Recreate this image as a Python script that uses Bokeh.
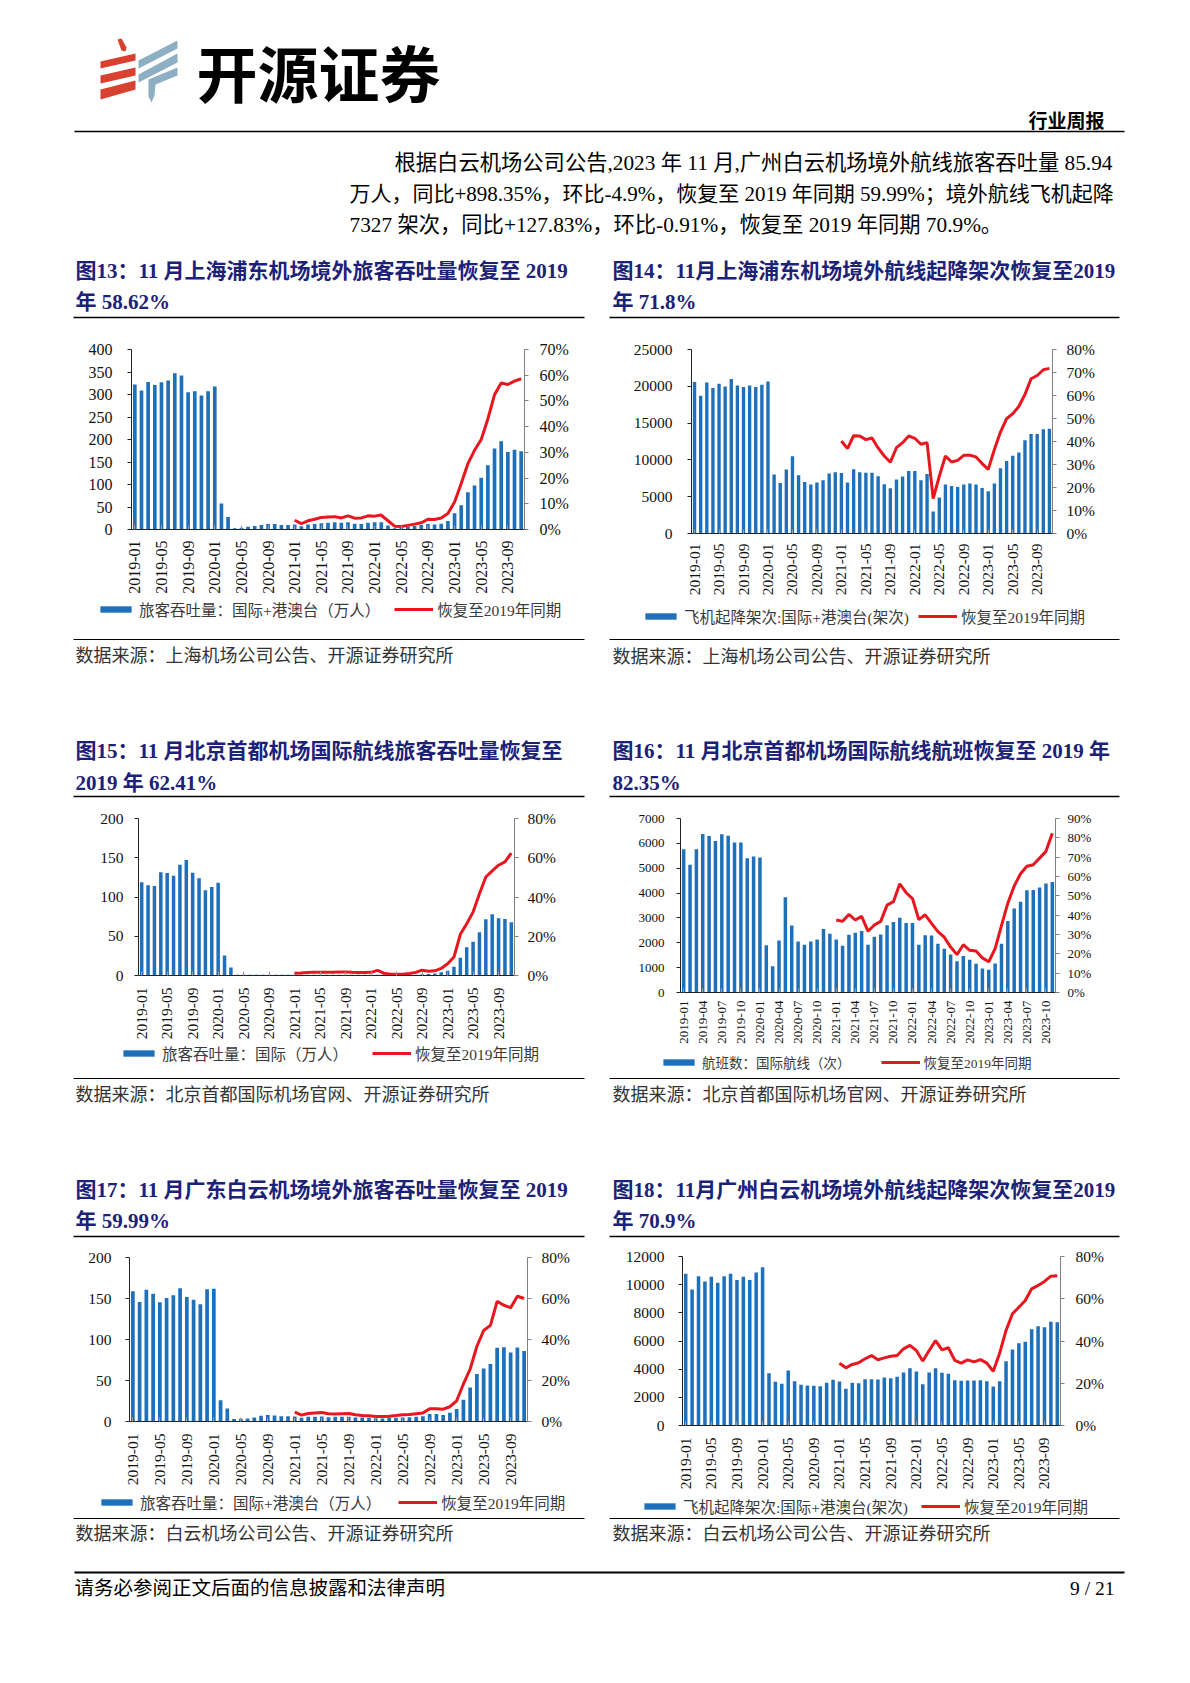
import math
from bokeh.plotting import figure
from bokeh.models import (Range1d, LinearAxis, FixedTicker, PrintfTickFormatter,
                          NumeralTickFormatter, CustomJSTickFormatter, Legend, LegendItem,
                          ColumnDataSource)
from bokeh.layouts import column, row
from bokeh.core.properties import value
from bokeh.embed import file_html
from bokeh.resources import INLINE

# ---------------- categories ----------------
MONTHS = [f"{y}-{m:02d}" for y in range(2019, 2024) for m in range(1, 13)][:59]
LINE_START = 24          # the recovery line starts at 2021-01
LINE_MONTHS = MONTHS[LINE_START:]

# ---------------- data ----------------
# Fig 13: Shanghai Pudong, passengers (10k) and recovery vs 2019 (%)
pvg_pax = [322, 309, 328, 321, 327, 331, 347, 342, 305, 307, 298, 307,
           318, 58, 28, 3, 4, 6, 8, 10, 12, 12, 10, 10,
           11, 7, 11, 12, 14, 15, 16, 15, 16, 13, 12, 15,
           16, 16, 9, 3, 4, 6, 8, 10, 12, 11, 13, 19,
           36, 54, 83, 98, 115, 143, 180, 196, 172, 177, 174]
pvg_pax_pct = [3.6, 2.3, 3.4, 4.0, 4.7, 4.9, 5.0, 4.5, 5.3, 4.4, 4.5, 5.3,
               5.2, 5.6, 3.4, 1.3, 1.2, 1.6, 2.1, 2.6, 4.0, 3.9, 4.5, 6.2,
               10.7, 17.9, 25.6, 30.8, 35.0, 43.0, 52.4, 57.0, 56.4, 57.7, 58.62]

# Fig 14: Shanghai Pudong, flights
pvg_flt = [20570, 18720, 20520, 19760, 20340, 19980, 20980, 20120, 19890, 20120, 19890, 20210,
           20660, 8000, 6870, 8680, 10490, 7910, 7000, 6650, 6920, 7230, 8140, 8320,
           8230, 6920, 8720, 8320, 8270, 8270, 7780, 6690, 6150, 7320, 7730, 8500,
           8500, 7230, 8090, 2980, 4880, 6650, 6460, 6330, 6650, 6780, 6650, 6190,
           5740, 6780, 8860, 9860, 10580, 10990, 12660, 13520, 13520, 14150, 14240]
pvg_flt_pct = [40.2, 36.9, 42.5, 42.4, 40.8, 41.5, 37.2, 33.7, 31.0, 37.3, 39.5, 42.4,
               41.4, 38.8, 39.5, 15.2, 24.9, 33.7, 31.1, 31.8, 34.0, 34.0, 33.3, 30.4,
               27.9, 36.5, 44.1, 49.9, 52.1, 55.2, 60.5, 67.3, 68.7, 71.2, 71.8]

# Fig 15: Beijing Capital, international passengers
pek_pax = [118.7, 115, 114, 131.5, 130.6, 127, 141, 147, 131, 124, 108.5, 112.8,
           118, 25.5, 10.2, 1, 0.8, 0.8, 0.8, 0.8, 0.8, 0.8, 0.8, 0.8,
           1, 0.8, 1, 1, 1, 1, 1, 1, 1, 1, 1, 1,
           1, 1, 1.2, 0.5, 0.5, 0.6, 0.8, 1, 1.5, 2, 2.5, 4,
           6, 11, 22.5, 36, 43, 55, 71.5, 78, 73, 72, 67.7]
pek_pax_pct = [1.2, 1.3, 1.5, 1.6, 1.6, 1.6, 1.7, 1.8, 1.8, 1.6, 1.5, 1.5,
               1.6, 2.6, 1.2, 0.6, 0.6, 0.7, 1.0, 1.6, 2.7, 2.2, 2.4, 3.6,
               6.0, 9.4, 21.0, 26.4, 32.3, 41.7, 50.2, 53.3, 56.2, 57.9, 62.41]

# Fig 16: Beijing Capital, international flights
pek_flt = [5767, 5144, 5767, 6377, 6297, 6098, 6363, 6310, 6032, 6032, 5396, 5475,
           5436, 1896, 1060, 2095, 3831, 2691, 2055, 1922, 2055, 2134, 2559, 2360,
           2134, 1882, 2320, 2400, 2479, 1922, 2240, 2333, 2704, 2837, 3009, 2797,
           2797, 1922, 2307, 2293, 1962, 1763, 1525, 1259, 1472, 1313, 1153, 968,
           915, 1167, 1962, 2877, 3381, 3646, 4110, 4123, 4229, 4388, 4441]
pek_flt_pct = [37.5, 36.8, 40.4, 37.5, 39.4, 31.7, 34.9, 36.8, 45.2, 47.0, 56.2, 51.6,
               48.6, 37.7, 40.2, 35.8, 31.5, 28.6, 23.5, 19.6, 24.7, 21.8, 21.5, 17.9,
               15.9, 22.7, 34.6, 46.2, 55.1, 61.4, 65.3, 66.1, 69.5, 73.0, 82.35]

# Fig 17: Guangzhou Baiyun, passengers
can_pax = [158.8, 145.7, 160.8, 155.9, 145.3, 150.6, 153.9, 162.4, 151.8, 148.6, 142.9, 161.2,
           162, 26, 16, 3, 3.3, 3.7, 5, 7, 7.8, 7.3, 6.5, 6.5,
           6.1, 4.5, 5.7, 5.7, 6.1, 5.3, 5.7, 5.7, 5.7, 4.9, 4.9, 4.5,
           4.1, 3.7, 4.5, 4.5, 4.9, 5.3, 5.7, 6.5, 9, 9, 7.8, 10.6,
           15.1, 26.5, 41.6, 58, 64.5, 70.2, 89.8, 90.6, 84, 90.2, 85.94]
can_pax_pct = [4.6, 3.1, 3.9, 4.2, 4.4, 3.8, 3.6, 3.8, 3.9, 3.3, 2.9, 2.8,
               2.4, 2.4, 2.6, 2.9, 3.3, 3.4, 3.8, 4.2, 6.2, 6.2, 6.0, 7.2,
               10.1, 18.3, 25.6, 36.7, 44.4, 46.9, 58.6, 56.7, 55.5, 61.1, 59.99]

# Fig 18: Guangzhou Baiyun, flights
can_flt = [10770, 9660, 10600, 10230, 10560, 10130, 10600, 10770, 10340, 10560, 10340, 10860,
           11240, 3716, 3101, 2959, 3905, 3148, 2888, 2840, 2817, 2793, 3030, 3243,
           3124, 2604, 3030, 3006, 3290, 3290, 3266, 3408, 3361, 3456, 3763, 4071,
           3834, 2935, 3763, 4071, 3740, 3669, 3219, 3172, 3195, 3195, 3219, 3148,
           2769, 3148, 4568, 5396, 5846, 5941, 6840, 7053, 6982, 7361, 7327]
can_flt_pct = [29.5, 27.3, 28.9, 29.7, 31.6, 33.1, 31.1, 32.0, 32.8, 33.1, 36.3, 37.9,
               35.5, 30.5, 35.5, 40.2, 35.8, 36.8, 30.8, 29.5, 31.1, 30.1, 31.2, 29.5,
               25.7, 34.2, 45.0, 52.9, 56.0, 59.2, 64.7, 66.3, 68.2, 70.7, 70.9]

# ---------------- styles ----------------
BLUE = "#1E70BA"
RED = "#E8161E"
NAVY = "#1B2278"
MIX = "Liberation Serif, Noto Sans CJK SC"
CJK = "Noto Sans CJK SC"
PAGE_W = 1174
TITLE_PX = 21


def chart(bars, pct, ymax, ystep, rmax, rstep, width, height, borders, every, font_px, stand):
    left, right, top, bottom = borders
    p = figure(width=width, height=height, output_backend="svg", toolbar_location=None, tools="",
               x_range=Range1d(-0.5, len(MONTHS) - 0.5), y_range=Range1d(0, ymax),
               min_border_left=left, min_border_right=right,
               min_border_top=top, min_border_bottom=bottom)
    p.extra_y_ranges = {"pct": Range1d(0, rmax)}
    p.background_fill_color = "white"
    p.border_fill_color = "white"
    p.outline_line_color = None
    p.xgrid.visible = False
    p.ygrid.visible = False

    src = ColumnDataSource(dict(x=list(range(len(MONTHS))), month=MONTHS, value=bars))
    p.vbar(x="x", top="value", width=0.55, source=src, fill_color=BLUE, line_color=None)
    lsrc = ColumnDataSource(dict(x=list(range(LINE_START, len(MONTHS))), month=LINE_MONTHS, value=pct))
    p.line(x="x", y="value", source=lsrc, y_range_name="pct", line_color=RED, line_width=3)

    fs = f"{font_px}px"
    xa = p.xaxis[0]
    xa.ticker = FixedTicker(ticks=list(range(0, len(MONTHS), every)))
    xa.formatter = CustomJSTickFormatter(args=dict(labels=MONTHS),
                                         code="return labels[Math.round(tick)] || '';")
    xa.major_label_orientation = math.pi / 2
    xa.major_tick_in = 4
    xa.major_tick_out = 0
    xa.major_tick_line_color = "#9a9a9a"
    xa.minor_tick_line_color = None
    xa.axis_line_color = "#222222"
    xa.major_label_text_font = "Liberation Serif"
    xa.major_label_text_font_size = fs
    xa.major_label_text_color = "#111111"
    xa.major_label_standoff = stand[0]

    ya = p.yaxis[0]
    ya.ticker = FixedTicker(ticks=list(range(0, ymax + 1, ystep)))
    ya.formatter = NumeralTickFormatter(format="0")
    ya.major_tick_out = 4
    ya.major_tick_in = 0
    ya.minor_tick_line_color = None
    ya.axis_line_color = "#222222"
    ya.major_tick_line_color = "#222222"
    ya.major_label_text_font = "Liberation Serif"
    ya.major_label_text_font_size = fs
    ya.major_label_text_color = "#111111"
    ya.major_label_standoff = stand[1]

    ra = LinearAxis(y_range_name="pct",
                    ticker=FixedTicker(ticks=list(range(0, rmax + 1, rstep))),
                    formatter=PrintfTickFormatter(format="%d%%"))
    ra.major_tick_out = 4
    ra.major_tick_in = 0
    ra.minor_tick_line_color = None
    ra.axis_line_color = "#808080"
    ra.major_tick_line_color = "#808080"
    ra.major_label_text_font = "Liberation Serif"
    ra.major_label_text_font_size = fs
    ra.major_label_text_color = "#111111"
    ra.major_label_standoff = stand[2]
    p.add_layout(ra, "right")
    return p


def band(y0, y1):
    p = figure(width=PAGE_W, height=y1 - y0, output_backend="svg", toolbar_location=None, tools="",
               x_range=Range1d(0, PAGE_W), y_range=Range1d(y1, y0),
               x_axis_type=None, y_axis_type=None, min_border=0)
    p.outline_line_color = None
    p.background_fill_color = "white"
    p.border_fill_color = "white"
    return p


def add_legend(p, band_bottom, left, center_y, bar_label, line_label, font_px, spacing, h=18):
    # legend keys drawn by the library; proxies sit outside the visible range
    br = p.vbar(x=[-500], top=[band_bottom], bottom=[band_bottom], width=1,
                fill_color=BLUE, line_color=None)
    lr = p.line(x=[-500, -499], y=[band_bottom, band_bottom], line_color=RED, line_width=3)
    leg = Legend(items=[LegendItem(label=bar_label, renderers=[br]),
                        LegendItem(label=line_label, renderers=[lr])],
                 orientation="horizontal",
                 location=(left, band_bottom - (center_y + h / 2)),
                 glyph_width=39, glyph_height=8, label_standoff=4, spacing=spacing,
                 padding=0, margin=0, label_height=14,
                 border_line_color=None, background_fill_alpha=0,
                 label_text_font=MIX, label_text_font_size=f"{font_px}px",
                 label_text_color="#3a3a3a")
    p.add_layout(leg)


def put(p, x, y, s, size, color="#000000", bold=False, align="left", font=MIX):
    p.text(x=[x], y=[y], text=[s], text_font=value(font), text_font_size=value(f"{size}px"),
           text_font_style="bold" if bold else "normal", text_color=color,
           text_align=align, text_baseline="middle")


def rule(p, x0, x1, y, w=1.0):
    p.segment(x0=[x0], y0=[y], x1=[x1], y1=[y], line_color="black", line_width=w)


PAX_LBL = "旅客吞吐量：国际+港澳台（万人）"
FLT_LBL = "飞机起降架次:国际+港澳台(架次)"
REC_LBL = "恢复至2019年同期"

# ---------------- header band ----------------
b1 = band(0, 330)
red_xs = [[117, 121, 126, 125, 121], [100, 135, 135, 100], [100, 135, 135, 100], [100, 135, 135, 100]]
red_ys = [[39, 38, 47, 51, 50], [61, 53, 60, 68], [75, 67, 75, 83], [89, 80, 89, 99]]
b1.patches(red_xs, red_ys, fill_color="#D8402F", line_color=None)
blue_xs = [[138, 177, 177, 138], [138, 177, 177, 138], [148, 177, 177, 155, 154, 151, 148]]
blue_ys = [[60, 40, 48, 68], [74, 53, 62, 82], [79, 67, 75, 84, 95, 102, 96]]
b1.patches(blue_xs, blue_ys, fill_color="#8EAFC3", line_color=None)
put(b1, 196, 71, "开源证券", 61, bold=True, font=CJK)
put(b1, 1104, 119, "行业周报", 19, bold=True, align="right", font=CJK)
rule(b1, 74, 1124, 131, 1.5)
put(b1, 394, 162, "根据白云机场公司公告,2023 年 11 月,广州白云机场境外航线旅客吞吐量 85.94", 21.3)
put(b1, 349, 193, "万人，同比+898.35%，环比-4.9%，恢复至 2019 年同期 59.99%；境外航线飞机起降", 21)
put(b1, 349, 224, "7327 架次，同比+127.83%，环比-0.91%，恢复至 2019 年同期 70.9%。", 21.3)
put(b1, 75, 270, "图13：11  月上海浦东机场境外旅客吞吐量恢复至  2019", TITLE_PX, NAVY, True)
put(b1, 75, 301, "年 58.62%", TITLE_PX, NAVY, True)
put(b1, 612, 270, "图14：11月上海浦东机场境外航线起降架次恢复至2019", TITLE_PX, NAVY, True)
put(b1, 612, 301, "年 71.8%", TITLE_PX, NAVY, True)
rule(b1, 73, 584, 317, 1.5)
rule(b1, 609, 1119, 317, 1.5)

# ---------------- row 1 charts (330 -> 598) ----------------
f13 = chart(pvg_pax, pvg_pax_pct, 400, 50, 70, 10, 592, 268, (131, 68, 19, 69), 4, 16, (11, 15, 11))
f14 = chart(pvg_flt, pvg_flt_pct, 25000, 5000, 80, 10, 582, 268, (99, 122, 19, 65), 4, 15.5, (10, 15, 10))

# ---------------- band 2 (598 -> 800) ----------------
b2 = band(598, 800)
add_legend(b2, 800, 96, 611, PAX_LBL, REC_LBL, 15.5, 14)
add_legend(b2, 800, 641, 618, FLT_LBL, REC_LBL, 15.5, 9)
rule(b2, 73, 584, 639, 1)
rule(b2, 609, 1119, 639, 1)
put(b2, 75, 655, "数据来源：上海机场公司公告、开源证券研究所", 18, "#333333")
put(b2, 612, 656, "数据来源：上海机场公司公告、开源证券研究所", 18, "#333333")
put(b2, 75, 750, "图15：11  月北京首都机场国际航线旅客吞吐量恢复至", TITLE_PX, NAVY, True)
put(b2, 75, 782, "2019 年 62.41%", TITLE_PX, NAVY, True)
put(b2, 612, 750, "图16：11  月北京首都机场国际航线航班恢复至  2019  年", TITLE_PX, NAVY, True)
put(b2, 612, 782, "82.35%", TITLE_PX, NAVY, True)
rule(b2, 73, 584, 796, 1.5)
rule(b2, 609, 1119, 796, 1.5)

# ---------------- row 2 charts (800 -> 1046) ----------------
f15 = chart(pek_pax, pek_pax_pct, 200, 50, 80, 20, 592, 246, (138, 78, 18, 71), 4, 15.5, (12, 11, 9))
f16 = chart(pek_flt, pek_flt_pct, 7000, 1000, 90, 10, 582, 246, (88, 119, 18, 52), 3, 13, (8, 12, 8))

# ---------------- band 3 (1046 -> 1240) ----------------
b3 = band(1046, 1240)
add_legend(b3, 1240, 119, 1055, "旅客吞吐量：国际（万人）", REC_LBL, 15.5, 24)
add_legend(b3, 1240, 659, 1064, "航班数：国际航线（次）", REC_LBL, 13.5, 30, h=16)
rule(b3, 73, 584, 1078, 1)
rule(b3, 609, 1119, 1078, 1)
put(b3, 75, 1094, "数据来源：北京首都国际机场官网、开源证券研究所", 18, "#333333")
put(b3, 612, 1094, "数据来源：北京首都国际机场官网、开源证券研究所", 18, "#333333")
put(b3, 75, 1189, "图17：11  月广东白云机场境外旅客吞吐量恢复至  2019", TITLE_PX, NAVY, True)
put(b3, 75, 1220, "年 59.99%", TITLE_PX, NAVY, True)
put(b3, 612, 1189, "图18：11月广州白云机场境外航线起降架次恢复至2019", TITLE_PX, NAVY, True)
put(b3, 612, 1220, "年 70.9%", TITLE_PX, NAVY, True)
rule(b3, 73, 584, 1236, 1.5)
rule(b3, 609, 1119, 1236, 1.5)

# ---------------- row 3 charts (1240 -> 1492) ----------------
f17 = chart(can_pax, can_pax_pct, 200, 50, 80, 20, 592, 252, (129, 65, 17, 71), 4, 15.5, (12, 14, 10))
f18 = chart(can_flt, can_flt_pct, 12000, 2000, 80, 20, 582, 252, (90, 114, 16, 67), 4, 15.5, (12, 14, 11))

# ---------------- band 4 / footer (1492 -> 1683) ----------------
b4 = band(1492, 1683)
add_legend(b4, 1683, 97, 1504, PAX_LBL, REC_LBL, 15.5, 17)
add_legend(b4, 1683, 640, 1508, FLT_LBL, REC_LBL, 15.5, 13)
rule(b4, 73, 584, 1518, 1)
rule(b4, 609, 1119, 1518, 1)
put(b4, 75, 1533, "数据来源：白云机场公司公告、开源证券研究所", 18, "#333333")
put(b4, 612, 1533, "数据来源：白云机场公司公告、开源证券研究所", 18, "#333333")
rule(b4, 74, 1124, 1572, 2)
put(b4, 74, 1588, "请务必参阅正文后面的信息披露和法律声明", 19.5)
put(b4, 1114, 1588, "9 / 21", 19.5, align="right")

page = column(
    b1,
    row(column(f13), column(f14), spacing=0),
    b2,
    row(column(f15), column(f16), spacing=0),
    b3,
    row(column(f17), column(f18), spacing=0),
    b4,
    spacing=0)

open("out.html", "w").write(file_html(page, INLINE))
